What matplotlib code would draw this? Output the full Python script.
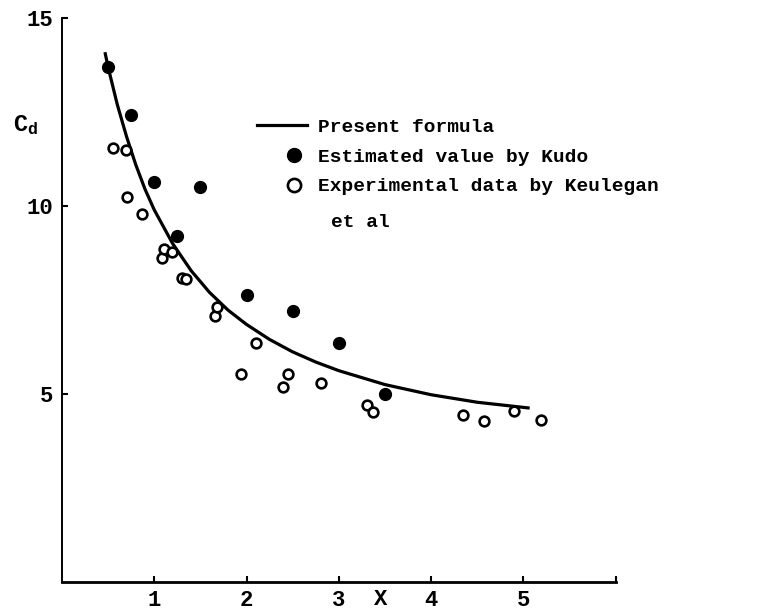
import matplotlib
matplotlib.use('Agg')
import matplotlib.pyplot as plt
from matplotlib.legend_handler import HandlerLine2D

# values
formula_x = [0.47, 0.5, 0.6, 0.7, 0.8, 0.9, 1.0, 1.2, 1.4, 1.6, 1.8, 2.0,
             2.25, 2.5, 2.75, 3.0, 3.5, 4.0, 4.5, 5.05]
formula_cd = [14.05, 13.7, 12.7, 11.85, 11.1, 10.45, 9.9, 9.0, 8.28, 7.7, 7.23, 6.85,
              6.45, 6.12, 5.85, 5.62, 5.25, 4.98, 4.78, 4.63]

kudo_x = [0.5, 0.75, 1.0, 1.25, 1.5, 2.0, 2.5, 3.0, 3.5]
kudo_cd = [13.7, 12.42, 10.64, 9.2, 10.51, 7.63, 7.21, 6.36, 5.0]

keulegan_x = [0.55, 0.69, 0.71, 0.87, 1.08, 1.11, 1.19, 1.30, 1.34, 1.66, 1.68,
              1.94, 2.10, 2.39, 2.45, 2.81, 3.30, 3.37, 4.35, 4.57, 4.90, 5.19]
keulegan_cd = [11.54, 11.49, 10.24, 9.79, 8.62, 8.86, 8.78, 8.09, 8.06, 7.07, 7.31,
               5.53, 6.36, 5.19, 5.53, 5.29, 4.71, 4.52, 4.44, 4.28, 4.55, 4.31]

x_ticks = [1, 2, 3, 4, 5, 6]
x_tick_labels = ['1', '2', '3', '4', '5', '']
y_ticks = [5, 10, 15]


class RightMarker(HandlerLine2D):
    # legend key with the marker sitting toward the right of the key area
    def __init__(self, size, **kw):
        super().__init__(**kw)
        self.size = size

    def get_xdata(self, legend, xdescent, ydescent, width, height, fontsize):
        xdata = [-xdescent + 0.48 * width, -xdescent + width]
        return xdata, [-xdescent + 0.74 * width]

    def update_prop(self, legend_handle, orig_handle, legend):
        super().update_prop(legend_handle, orig_handle, legend)
        legend_handle.set_markersize(self.size)


plt.rcParams['font.family'] = ['Liberation Mono', 'DejaVu Sans']
plt.rcParams['font.weight'] = 'bold'
plt.rcParams['axes.labelweight'] = 'bold'
plt.rcParams['mathtext.fontset'] = 'custom'
plt.rcParams['mathtext.rm'] = 'Liberation Mono:bold'
plt.rcParams['mathtext.it'] = 'Liberation Mono:bold'

fig = plt.figure(figsize=(7.64, 6.11), dpi=100)
ax = fig.add_axes([0.081, 0.0475, 0.725, 0.923])

ax.plot(formula_x, formula_cd, '-', color='black', lw=2.3, label='Present formula')
kudo, = ax.plot(kudo_x, kudo_cd, 'o', color='black', ms=8.5, ls='none',
                label='Estimated value by Kudo')
keul, = ax.plot(keulegan_x, keulegan_cd, 'o', mfc='white', mec='black', mew=1.9, ms=7,
                ls='none', label='Experimental data by Keulegan')

ax.set_xlim(0, 6)
ax.set_ylim(0, 15)
ax.set_xticks(x_ticks)
ax.set_xticklabels(x_tick_labels)
ax.set_yticks(y_ticks)
ax.tick_params(direction='in', length=4, width=1.5, labelsize=16, pad=6)
for side in ['top', 'right']:
    ax.spines[side].set_visible(False)
ax.spines['left'].set_linewidth(1.4)
ax.spines['bottom'].set_linewidth(2)

ax.set_xlabel('X', fontsize=16, fontweight='bold')
ax.xaxis.set_label_coords(0.575, -0.012)
ax.xaxis.label.set_va('top')
ax.set_ylabel(r'$\mathrm{C_d}$', fontsize=17, rotation=0, va='center')
ax.yaxis.set_label_coords(-0.065, 0.81)

ax.legend(loc='upper left', bbox_to_anchor=(0.336, 0.806),
          bbox_transform=fig.transFigure, frameon=False, fontsize=14,
          handlelength=2.6, handletextpad=0.55, borderpad=0, borderaxespad=0,
          labelspacing=0.62,
          handler_map={kudo: RightMarker(10), keul: RightMarker(9.5)})
ax.text(0.485, 0.638, 'et al', transform=ax.transAxes, fontsize=14, va='center')

fig.savefig('out.png', dpi=100)
